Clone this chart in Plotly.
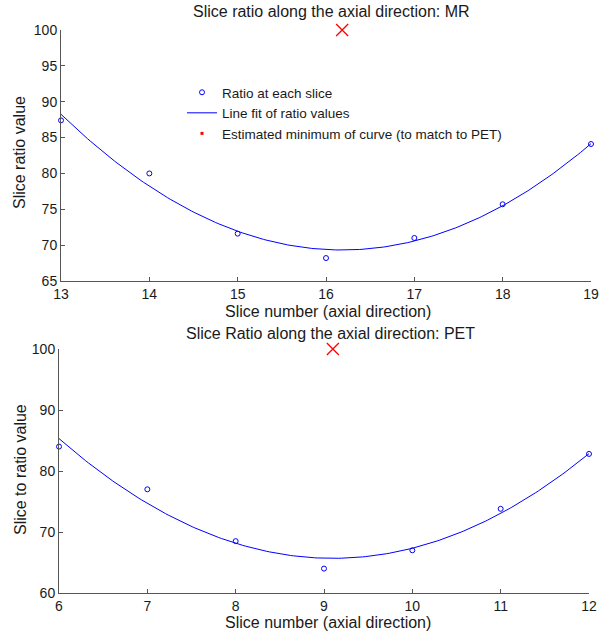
import numpy as np
import plotly.graph_objects as go

# ---- data ----
mr_slices = [13, 14, 15, 16, 17, 18, 19]
mr_ratio = [87.4, 80.0, 71.6, 68.2, 71.0, 75.7, 84.1]

pet_slices = [6, 7, 8, 9, 10, 11, 12]
pet_ratio = [84.0, 77.0, 68.5, 64.0, 67.0, 73.8, 82.8]

mr_yticks = [65, 70, 75, 80, 85, 90, 95, 100]
pet_yticks = [60, 70, 80, 90, 100]
marker_level = 100  # y at which the estimated minimum is marked

BLUE = "#0000ff"
RED = "#ff0000"
FONT = "Liberation Sans, Arial, Helvetica, sans-serif"
TXT = "#1a1a1a"
AX = "#555555"


def quad_fit(xs, ys):
    c = np.polyfit(xs, ys, 2)
    xf = np.linspace(min(xs), max(xs), 200)
    yf = np.polyval(c, xf)
    xmin = -c[1] / (2 * c[0])
    return xf, yf, xmin


mr_xf, mr_yf, mr_min = quad_fit(mr_slices, mr_ratio)
pet_xf, pet_yf, pet_min = quad_fit(pet_slices, pet_ratio)

fig = go.Figure()

circ = dict(symbol="circle-open", size=5, color=BLUE, line=dict(width=1, color=BLUE))
xmark = dict(symbol="x-thin", size=12, line=dict(width=1.3, color=RED), color=RED)

# top (MR)
fig.add_trace(go.Scatter(x=mr_slices, y=mr_ratio, mode="markers", name="Ratio at each slice",
                         marker=circ, xaxis="x", yaxis="y", cliponaxis=False))
fig.add_trace(go.Scatter(x=mr_xf, y=mr_yf, mode="lines", name="Line fit of ratio values",
                         line=dict(color=BLUE, width=1), xaxis="x", yaxis="y"))
fig.add_trace(go.Scatter(x=[None], y=[None], mode="markers",
                         name="Estimated minimum of curve (to match to PET)",
                         marker=dict(symbol="square", size=3, color=RED), xaxis="x", yaxis="y"))
fig.add_trace(go.Scatter(x=[mr_min], y=[marker_level], mode="markers", showlegend=False,
                         marker=xmark, xaxis="x", yaxis="y", cliponaxis=False))

# bottom (PET)
fig.add_trace(go.Scatter(x=pet_slices, y=pet_ratio, mode="markers", showlegend=False,
                         marker=circ, xaxis="x2", yaxis="y2", cliponaxis=False))
fig.add_trace(go.Scatter(x=pet_xf, y=pet_yf, mode="lines", showlegend=False,
                         line=dict(color=BLUE, width=1), xaxis="x2", yaxis="y2"))
fig.add_trace(go.Scatter(x=[pet_min], y=[marker_level], mode="markers", showlegend=False,
                         marker=xmark, xaxis="x2", yaxis="y2", cliponaxis=False))

W, H = 602, 632
axis_common = dict(showgrid=False, zeroline=False, showline=True, linecolor=AX, linewidth=1,
                   ticks="inside", ticklen=4, tickcolor=AX, tickfont=dict(size=14, color=TXT, family=FONT),
                   mirror=False, automargin=False)

fig.update_layout(
    width=W, height=H,
    margin=dict(l=0, r=0, t=0, b=0, pad=0, autoexpand=False),
    paper_bgcolor="white", plot_bgcolor="white",
    font=dict(family=FONT, color=TXT, size=14),
    xaxis=dict(domain=[61 / W, 591 / W], range=[13, 19], tickvals=mr_slices, anchor="y", **axis_common),
    yaxis=dict(domain=[1 - 281 / H, 1 - 30 / H], range=[65, 100], tickvals=mr_yticks, anchor="x", **axis_common),
    xaxis2=dict(domain=[59 / W, 589 / W], range=[6, 12], tickvals=pet_slices, anchor="y2", **axis_common),
    yaxis2=dict(domain=[1 - 593 / H, 1 - 349 / H], range=[60, 100], tickvals=pet_yticks, anchor="x2", **axis_common),
    showlegend=True,
    legend=dict(x=182 / W, y=1 - 77 / H, xanchor="left", yanchor="top", bgcolor="rgba(0,0,0,0)",
                font=dict(size=13.5, color=TXT, family=FONT), itemwidth=30, tracegroupgap=0),
)

ann = [
    dict(text="Slice ratio along the axial direction: MR", x=332 / W, y=1 - 12 / H),
    dict(text="Slice number (axial direction)", x=328 / W, y=1 - 311 / H),
    dict(text="Slice Ratio along the axial direction: PET", x=330 / W, y=1 - 333 / H),
    dict(text="Slice number (axial direction)", x=328 / W, y=1 - 622 / H),
]
annotations = []
for a in ann:
    annotations.append(dict(text=a["text"], x=a["x"], y=a["y"], xref="paper", yref="paper",
                            xanchor="center", yanchor="middle", showarrow=False,
                            font=dict(size=16, color=TXT, family=FONT)))
annotations.append(dict(text="Slice ratio value", x=20 / W, y=1 - 153 / H, xref="paper", yref="paper",
                        xanchor="center", yanchor="middle", textangle=-90, showarrow=False,
                        font=dict(size=16, color=TXT, family=FONT)))
annotations.append(dict(text="Slice to ratio value", x=20 / W, y=1 - 470 / H, xref="paper", yref="paper",
                        xanchor="center", yanchor="middle", textangle=-90, showarrow=False,
                        font=dict(size=16, color=TXT, family=FONT)))
fig.update_layout(annotations=annotations)

fig.write_html("out.html")
